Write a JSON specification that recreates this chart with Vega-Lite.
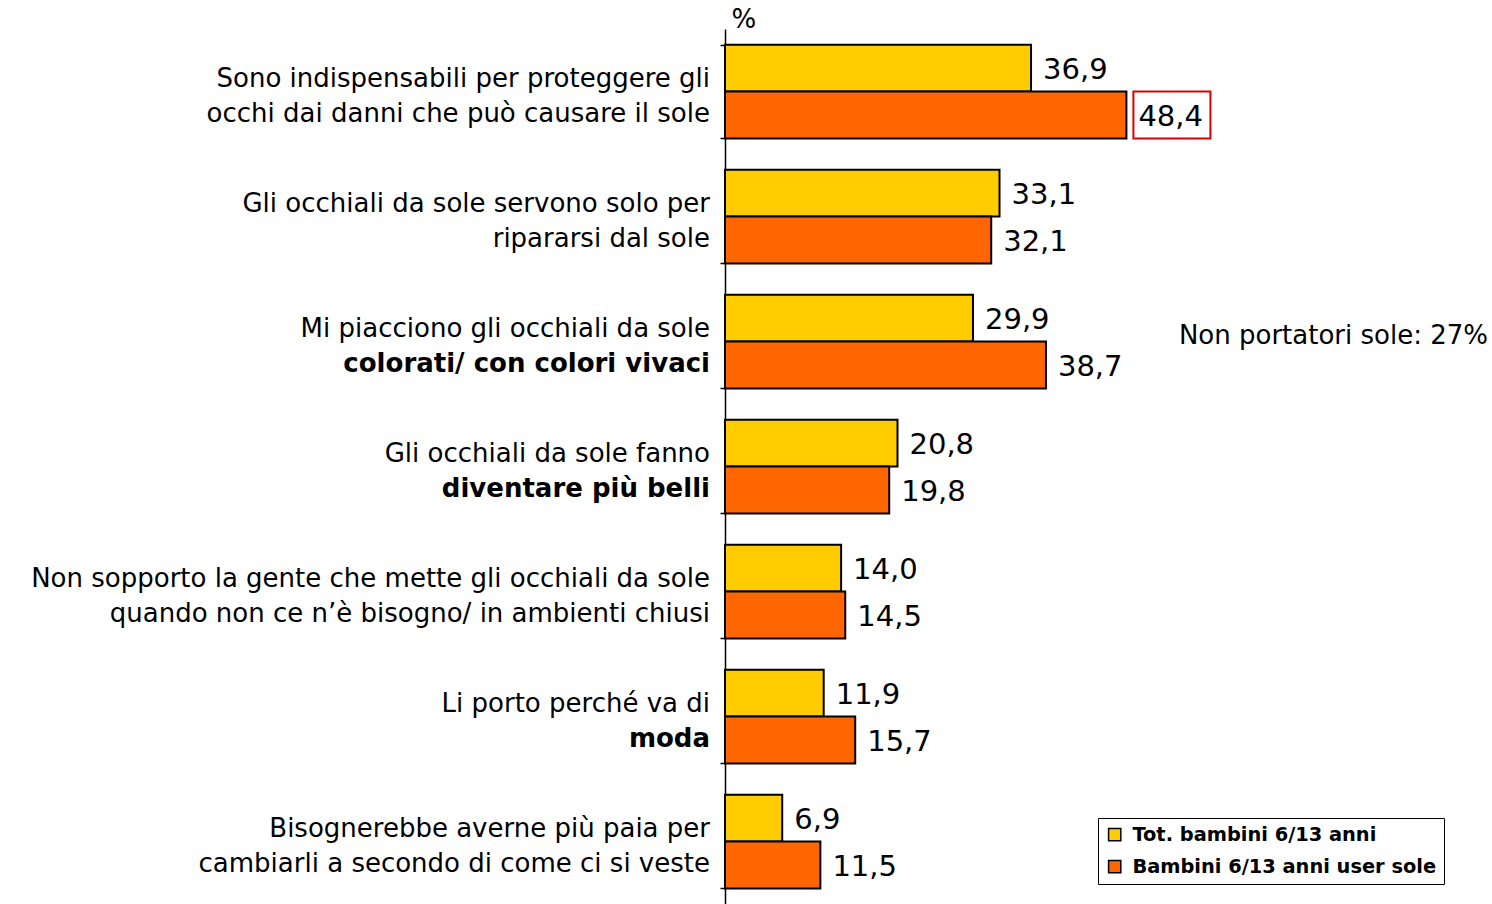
{
  "$schema": "https://vega.github.io/schema/vega-lite/v6.json",
  "width": 763,
  "height": 875,
  "autosize": {"type": "none"},
  "padding": {"left": 725, "top": 29, "right": 4, "bottom": 0},
  "background": "#ffffff",
  "datasets": {
    "bars": [
      {"cat": "Sono indispensabili", "series": "Tot. bambini 6/13 anni", "value": 36.9},
      {"cat": "Sono indispensabili", "series": "Bambini 6/13 anni user sole", "value": 48.4},
      {"cat": "Solo per ripararsi", "series": "Tot. bambini 6/13 anni", "value": 33.1},
      {"cat": "Solo per ripararsi", "series": "Bambini 6/13 anni user sole", "value": 32.1},
      {"cat": "Colorati", "series": "Tot. bambini 6/13 anni", "value": 29.9},
      {"cat": "Colorati", "series": "Bambini 6/13 anni user sole", "value": 38.7},
      {"cat": "Più belli", "series": "Tot. bambini 6/13 anni", "value": 20.8},
      {"cat": "Più belli", "series": "Bambini 6/13 anni user sole", "value": 19.8},
      {"cat": "Non sopporto", "series": "Tot. bambini 6/13 anni", "value": 14.0},
      {"cat": "Non sopporto", "series": "Bambini 6/13 anni user sole", "value": 14.5},
      {"cat": "Va di moda", "series": "Tot. bambini 6/13 anni", "value": 11.9},
      {"cat": "Va di moda", "series": "Bambini 6/13 anni user sole", "value": 15.7},
      {"cat": "Più paia", "series": "Tot. bambini 6/13 anni", "value": 6.9},
      {"cat": "Più paia", "series": "Bambini 6/13 anni user sole", "value": 11.5}
    ],
    "labels": [
      {"cat": "Sono indispensabili", "l1": "Sono indispensabili per proteggere gli", "l2": "occhi dai danni che può causare il sole"},
      {"cat": "Solo per ripararsi", "l1": "Gli occhiali da sole servono solo per", "l2": "ripararsi dal sole"},
      {"cat": "Colorati", "l1": "Mi piacciono gli occhiali da sole", "l2": "colorati/ con colori vivaci"},
      {"cat": "Più belli", "l1": "Gli occhiali da sole fanno", "l2": "diventare più belli"},
      {"cat": "Non sopporto", "l1": "Non sopporto la gente che mette gli occhiali da sole", "l2": "quando non ce n’è bisogno/ in ambienti chiusi"},
      {"cat": "Va di moda", "l1": "Li porto perché va di", "l2": "moda"},
      {"cat": "Più paia", "l1": "Bisognerebbe averne più paia per", "l2": "cambiarli a secondo di come ci si veste"}
    ],
    "note": [
      {"cat": "Colorati", "text": "Non portatori sole: 27%"}
    ]
  },
  "encoding": {
    "y": {
      "field": "cat",
      "type": "nominal",
      "sort": null,
      "scale": {"paddingInner": 0.25, "paddingOuter": 0.125},
      "axis": {
        "labels": false,
        "grid": false,
        "domainColor": "#000000",
        "domainWidth": 1.5,
        "tickColor": "#000000",
        "tickWidth": 1.5,
        "tickSize": 5,
        "tickBand": "extent",
        "title": "%",
        "titleAngle": 0,
        "titleX": 6,
        "titleY": -2,
        "titleAlign": "left",
        "titleBaseline": "alphabetic",
        "titleFontSize": 26,
        "titleFontWeight": "normal",
        "titleFont": "DejaVu Sans",
        "titleColor": "#000000"
      }
    }
  },
  "layer": [
    {
      "data": {"name": "bars"},
      "mark": {"type": "bar", "stroke": "#000000", "strokeWidth": 2},
      "encoding": {
        "x": {"field": "value", "type": "quantitative", "scale": {"domain": [0, 92], "nice": false}, "axis": null},
        "yOffset": {"field": "series", "type": "nominal", "sort": null, "scale": {"paddingInner": 0, "paddingOuter": 0}},
        "fill": {
          "field": "series",
          "type": "nominal",
          "sort": null,
          "scale": {"range": ["#FFCC00", "#FF6600"]},
          "legend": {
            "title": null,
            "orient": "none",
            "legendX": 373,
            "legendY": 789,
            "symbolType": "square",
            "symbolSize": 150,
            "symbolStrokeColor": "#000000",
            "symbolStrokeWidth": 1.5,
            "labelFont": "DejaVu Sans",
            "labelFontWeight": "bold",
            "labelFontSize": 19.4,
            "labelColor": "#000000",
            "labelOffset": 8,
            "labelLimit": 400,
            "strokeColor": "#000000",
            "fillColor": "#ffffff",
            "padding": 7,
            "rowPadding": 11
          }
        }
      }
    },
    {
      "data": {"name": "bars"},
      "mark": {"type": "text", "align": "left", "baseline": "alphabetic", "dx": 12, "dy": 11, "font": "DejaVu Sans", "fontSize": 29, "color": "#000000"},
      "encoding": {
        "x": {"field": "value", "type": "quantitative"},
        "yOffset": {"field": "series", "type": "nominal", "sort": null},
        "text": {"field": "value", "type": "quantitative", "format": ".1f"}
      }
    },
    {
      "data": {"name": "bars"},
      "transform": [{"filter": "datum.value == 48.4"}],
      "mark": {"type": "bar", "fillOpacity": 0, "stroke": "#DD0000", "strokeWidth": 2, "xOffset": 7, "x2Offset": 84},
      "encoding": {
        "x": {"field": "value", "type": "quantitative"},
        "x2": {"field": "value"},
        "yOffset": {"field": "series", "type": "nominal", "sort": null}
      }
    },
    {
      "data": {"name": "labels"},
      "mark": {"type": "text", "align": "right", "baseline": "alphabetic", "dx": -15, "dy": -5, "font": "DejaVu Sans", "fontSize": 26, "color": "#000000"},
      "encoding": {
        "x": {"datum": 0},
        "text": {"field": "l1"}
      }
    },
    {
      "data": {"name": "labels"},
      "transform": [{"filter": "indexof(['colorati/ con colori vivaci', 'diventare più belli', 'moda'], datum.l2) < 0"}],
      "mark": {"type": "text", "align": "right", "baseline": "alphabetic", "dx": -15, "dy": 30, "font": "DejaVu Sans", "fontSize": 26, "color": "#000000"},
      "encoding": {
        "x": {"datum": 0},
        "text": {"field": "l2"}
      }
    },
    {
      "data": {"name": "labels"},
      "transform": [{"filter": "indexof(['colorati/ con colori vivaci', 'diventare più belli', 'moda'], datum.l2) >= 0"}],
      "mark": {"type": "text", "align": "right", "baseline": "alphabetic", "dx": -15, "dy": 30, "font": "DejaVu Sans", "fontSize": 26, "fontWeight": "bold", "color": "#000000"},
      "encoding": {
        "x": {"datum": 0},
        "text": {"field": "l2"}
      }
    },
    {
      "data": {"name": "note"},
      "mark": {"type": "text", "align": "right", "baseline": "alphabetic", "dy": 2, "font": "DejaVu Sans", "fontSize": 26, "color": "#000000"},
      "encoding": {
        "x": {"datum": 92},
        "text": {"field": "text"}
      }
    }
  ],
  "config": {
    "view": {"stroke": null},
    "font": "DejaVu Sans",
    "locale": {"number": {"decimal": ",", "thousands": ".", "grouping": [3], "currency": ["", " €"]}}
  }
}
